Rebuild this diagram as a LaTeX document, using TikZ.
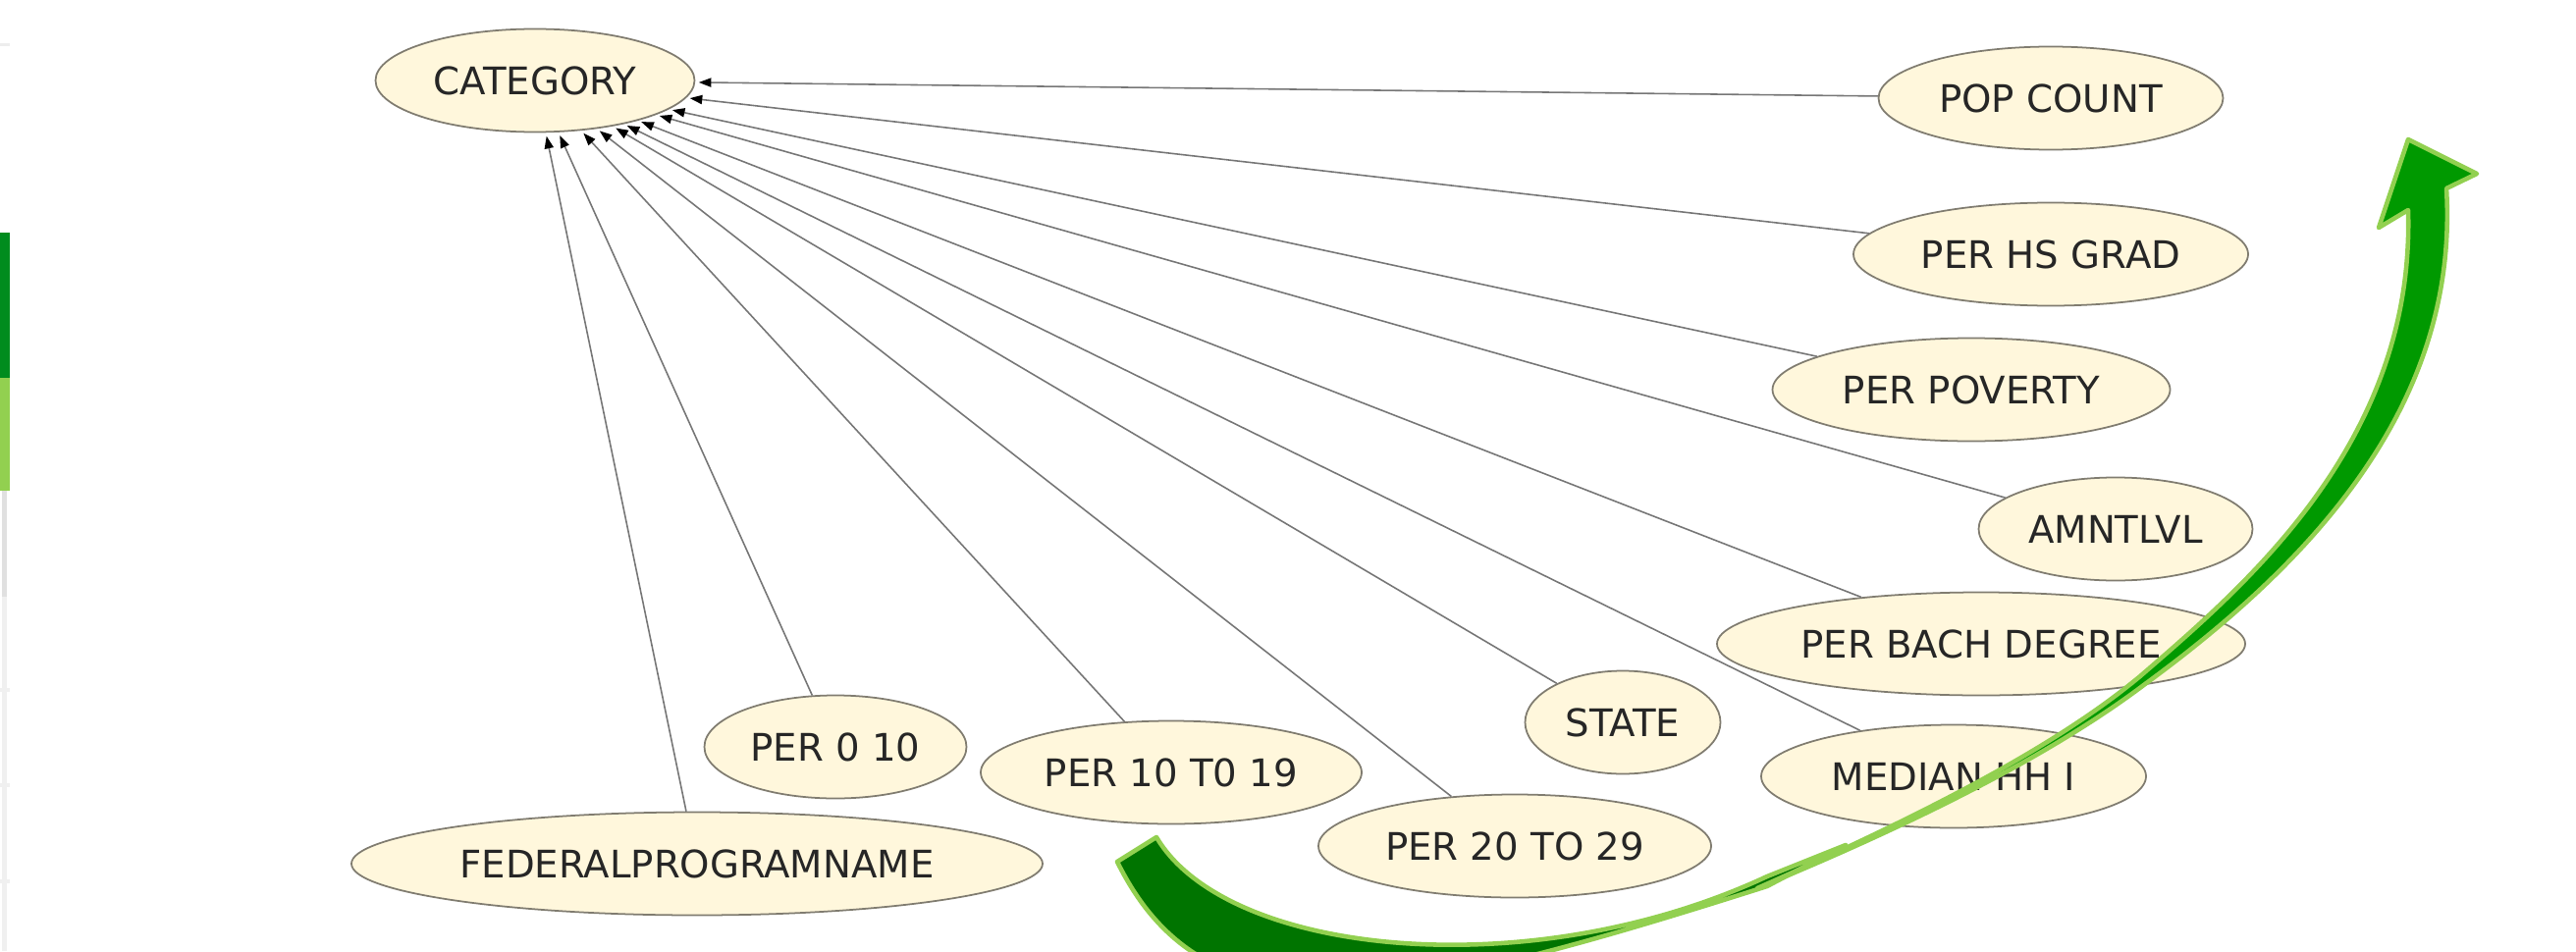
\documentclass[tikz,border=0pt]{standalone}
\usepackage{fontspec}
\setmainfont{DejaVu Sans}
\usetikzlibrary{shapes.geometric,arrows.meta}

\definecolor{nodefill}{RGB}{255,247,220}
\definecolor{nodeline}{RGB}{128,124,112}
\definecolor{edgegray}{RGB}{118,118,118}
\definecolor{arrowfront}{RGB}{0,153,0}
\definecolor{arrowback}{RGB}{0,116,0}
\definecolor{arrowrim}{RGB}{146,208,80}
\definecolor{bardark}{RGB}{0,140,30}

\begin{document}
\begin{tikzpicture}[
  attr/.style={ellipse, draw=nodeline, line width=0.5pt, fill=nodefill, inner sep=0pt,
    minimum height=1.05cm, font=\fontsize{11}{13}\selectfont, text=black!85},
  link/.style={draw=edgegray, line width=0.45pt,
    -{Triangle[length=3.6pt,width=2.6pt,color=black]}, shorten >=1pt},
  ribbon/.style={draw=arrowrim, line width=1.3pt, line join=round}
]

\useasboundingbox (0,0) rectangle (26.24,9.69);

% Side bars
\fill[bardark] (0,5.84) rectangle (0.10,7.32);
\fill[arrowrim] (0,4.69) rectangle (0.10,5.84);
\fill[black!12] (0.02,3.61) rectangle (0.07,4.69);
\fill[black!6] (0.02,0) rectangle (0.07,3.61);
\foreach \y in {2.64,1.67,0.69}
  \fill[black!6] (0,\y) rectangle (0.10,\y+0.04);
\fill[black!7] (0,9.22) rectangle (0.10,9.25);

% Nodes
\node[attr, minimum width=3.25cm] (category) at (5.45,8.87) {CATEGORY};
\node[attr, minimum width=3.51cm] (popcount) at (20.89,8.69) {POP COUNT};
\node[attr, minimum width=4.02cm] (hsgrad)   at (20.89,7.10) {PER HS GRAD};
\node[attr, minimum width=4.05cm] (poverty)  at (20.08,5.72) {PER POVERTY};
\node[attr, minimum width=2.79cm] (amntlvl)  at (21.55,4.30) {AMNTLVL};
\node[attr, minimum width=5.38cm] (bach)     at (20.18,3.13) {PER BACH DEGREE};
\node[attr, minimum width=3.92cm] (median)   at (19.90,1.78) {MEDIAN HH I};
\node[attr, minimum width=1.99cm] (state)    at (16.53,2.33) {STATE};
\node[attr, minimum width=4.00cm] (pertwenty) at (15.43,1.07) {PER 20 TO 29};
\node[attr, minimum width=3.88cm] (perten)   at (11.93,1.82) {PER 10 T0 19};
\node[attr, minimum width=2.67cm] (perzero)  at (8.51,2.08) {PER 0 10};
\node[attr, minimum width=7.04cm] (federal)  at (7.10,0.89) {FEDERALPROGRAMNAME};

% Links
\foreach \src in {popcount,hsgrad,poverty,amntlvl,bach,median,state,pertwenty,perten,perzero,federal}
  \draw[link] (\src) -- (category);

% Curved arrow
\begin{scope}
  \clip (0,0) rectangle (26.24,9.69);
  % back of the ribbon
  \draw[ribbon, fill=arrowback] (11.38,0.91) .. controls (12.30,-0.95) and (14.20,-0.55) .. (18.00,0.66)
    -- (18.80,1.08) -- (18.00,0.76) .. controls (15.60,-0.36) and (12.50,-0.06) .. (11.78,1.16) -- cycle;
  % front with head
  \draw[ribbon, fill=arrowfront] (17.90,0.64) .. controls (19.50,1.35) and (20.90,2.05) .. (21.80,2.80)
    .. controls (22.90,3.75) and (24.60,5.20) .. (24.53,7.55)
    -- (24.23,7.37) -- (24.53,8.27) -- (25.23,7.92) -- (24.92,7.77)
    .. controls (25.05,5.60) and (23.60,4.00) .. (21.85,2.72)
    .. controls (20.90,2.00) and (19.50,1.30) .. (17.90,0.64) -- cycle;
\end{scope}

\end{tikzpicture}
\end{document}
